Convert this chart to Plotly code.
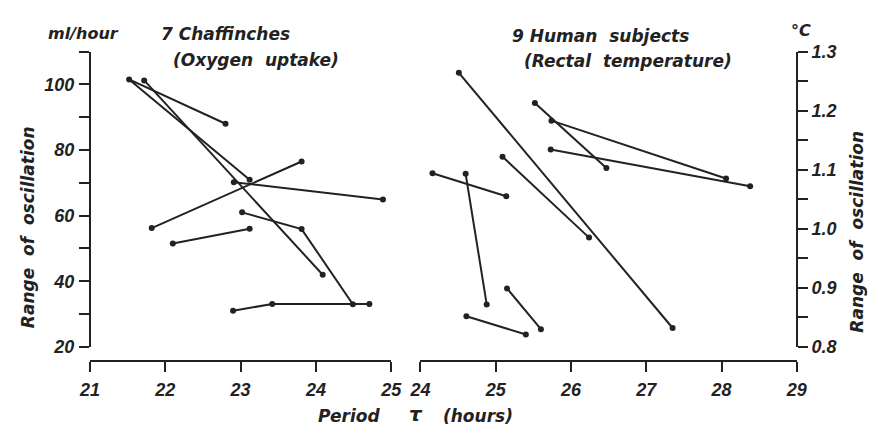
import plotly.graph_objects as go

# ---------------- data ----------------
chaffinch_periods = [
    [22.80, 21.52, 23.12],
    [21.72, 24.09],
    [21.82, 23.81],
    [22.10, 23.12],
    [22.91, 24.89],
    [23.02, 23.81, 24.49],
    [22.90, 23.42, 24.71],
]
chaffinch_ranges = [
    [88.0, 101.5, 70.9],
    [101.2, 42.0],
    [56.2, 76.5],
    [51.5, 56.0],
    [70.2, 64.9],
    [61.0, 55.9, 33.0],
    [31.0, 33.1, 33.1],
]

human_periods = [
    [24.51, 27.35],
    [25.09, 26.24],
    [24.16, 25.14],
    [24.60, 24.88],
    [24.61, 25.40],
    [25.15, 25.60],
    [25.52, 26.47],
    [25.74, 28.06],
    [25.73, 28.38],
]
human_ranges = [
    [1.264, 0.832],
    [1.122, 0.985],
    [1.094, 1.055],
    [1.093, 0.872],
    [0.852, 0.821],
    [0.899, 0.830],
    [1.213, 1.103],
    [1.183, 1.085],
    [1.134, 1.072],
]

left_x_ticks = [21, 22, 23, 24, 25]
left_y_ticks = [20, 40, 60, 80, 100]
right_x_ticks = [24, 25, 26, 27, 28, 29]
right_y_ticks = [0.8, 0.9, 1.0, 1.1, 1.2, 1.3]

# ---------------- styling ----------------
W, H = 878, 439
INK = "#222222"


def fx(px):
    return px / W


def fy(py):
    return 1 - py / H


def font(size=16, family="DejaVu Sans"):
    return dict(family=family, size=size, color=INK, weight=700, style="italic")


TICKFONT = font(18, "Liberation Sans, Arial, sans-serif")

fig = go.Figure()

for xs, ys in zip(chaffinch_periods, chaffinch_ranges):
    fig.add_trace(go.Scatter(x=xs, y=ys, mode="lines+markers", xaxis="x", yaxis="y",
                             line=dict(color=INK, width=2),
                             marker=dict(color=INK, size=6), showlegend=False,
                             hoverinfo="skip"))

for xs, ys in zip(human_periods, human_ranges):
    fig.add_trace(go.Scatter(x=xs, y=ys, mode="lines+markers", xaxis="x2", yaxis="y2",
                             line=dict(color=INK, width=2),
                             marker=dict(color=INK, size=6), showlegend=False,
                             hoverinfo="skip"))

ydom = [fy(353), fy(43.5)]
xpos = fy(368)

common_axis = dict(showline=True, linecolor=INK, linewidth=2, ticks="outside",
                   ticklen=10, tickwidth=2, tickcolor=INK, showgrid=False,
                   zeroline=False, tickfont=TICKFONT, fixedrange=True)

fig.update_layout(
    width=W, height=H, autosize=False,
    margin=dict(l=0, r=0, t=0, b=0, pad=0),
    paper_bgcolor="white", plot_bgcolor="white",
    xaxis=dict(domain=[fx(81), fx(390)], range=[21, 25], anchor="free", position=xpos,
               tickvals=left_x_ticks, ticklabelstandoff=2, **common_axis),
    yaxis=dict(domain=ydom, range=[20, 110], anchor="free", position=fx(81), side="left",
               tickvals=left_y_ticks, ticklabelstandoff=1,
               minor=dict(dtick=10, tick0=20, ticks="outside", ticklen=10, tickwidth=2,
                          tickcolor=INK, showgrid=False),
               **common_axis),
    xaxis2=dict(domain=[fx(420), fx(806)], range=[24, 29], anchor="free", position=xpos,
                tickvals=right_x_ticks, ticklabelstandoff=2, **common_axis),
    yaxis2=dict(domain=ydom, range=[0.8, 1.3], anchor="free", position=fx(806), side="right",
                tickvals=right_y_ticks, tickformat=".1f", ticklabelstandoff=0,
                minor=dict(dtick=0.05, tick0=0.8, ticks="outside", ticklen=10, tickwidth=2,
                           tickcolor=INK, showgrid=False),
                **common_axis),
)

annos = [
    ("ml/hour", 74, 25, 0, 16),
    ("7 Chaffinches", 220, 25, 0, 17),
    ("(Oxygen  uptake)", 251, 52, 0, 17),
    ("9 Human  subjects", 605, 27, 0, 17),
    ("(Rectal  temperature)", 633, 53, 0, 17),
    ("°C", 810, 22, 0, 16),
    ("Range  of  oscillation", 17, 228, -90, 17),
    ("Range  of  oscillation", 868, 232, -90, 17),
    ("Period", 347, 425, 0, 17),
    ("τ", 415, 423, 0, 20),
    ("(hours)", 479, 425, 0, 17),
]
for text, px, py, ang, sz in annos:
    fig.add_annotation(text=text, x=fx(px), y=fy(py), xref="paper", yref="paper",
                       showarrow=False, textangle=ang, xanchor="center", yanchor="middle",
                       font=font(sz))

fig.write_html("out.html",
               post_script="document.body.style.margin='0';document.body.style.padding='0';"
                           "document.documentElement.style.overflow='hidden';")
